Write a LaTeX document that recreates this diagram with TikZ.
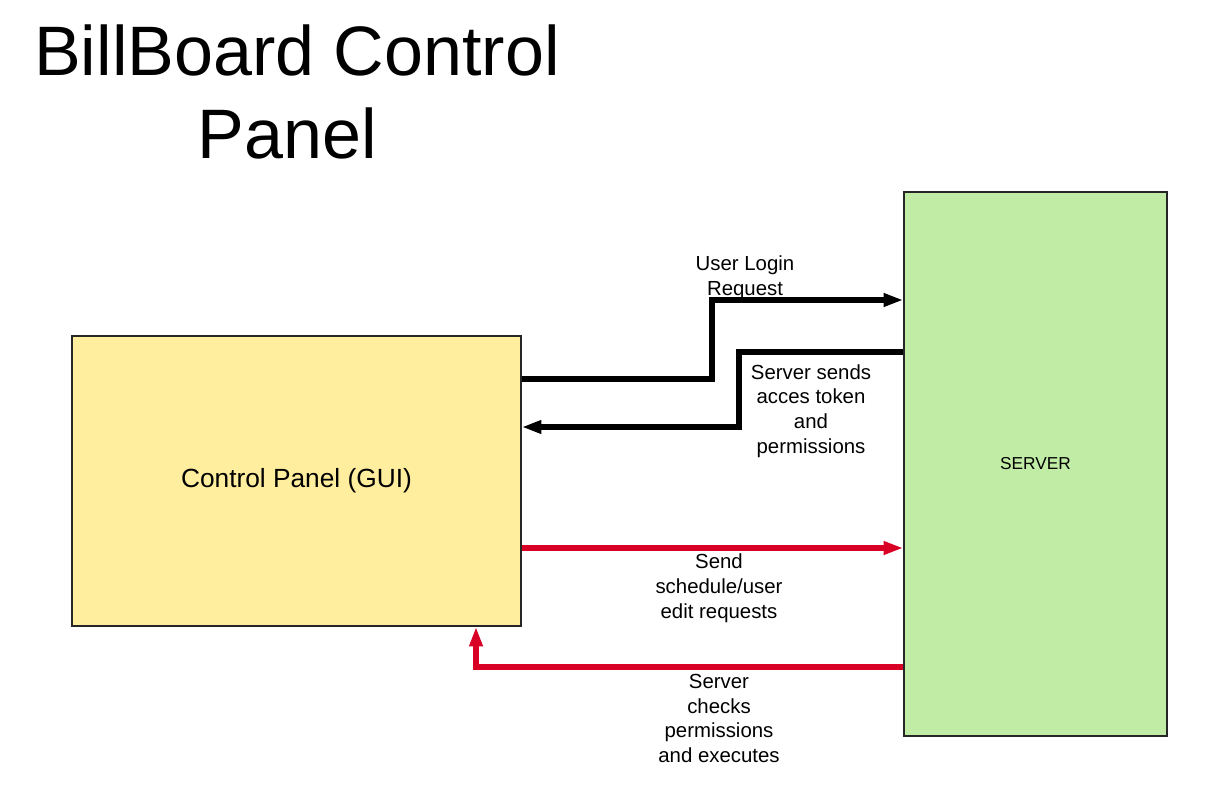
\documentclass[tikz,border=0pt]{standalone}
\usepackage{fontspec}
\setmainfont{Liberation Sans}
\usetikzlibrary{arrows.meta}

\definecolor{guiyellow}{RGB}{255,238,158}
\definecolor{servergreen}{RGB}{192,236,166}
\definecolor{linkred}{RGB}{217,0,38}

\tikzset{
  box/.style={draw=black!85, line width=1pt, inner sep=0pt},
  link/.style={line width=3.6pt, -{Triangle[length=14pt,width=9pt]}},
  note/.style={align=center, font=\fontsize{14.5}{17.6}\selectfont},
}

\begin{document}
\begin{tikzpicture}[x=0.025cm, y=-0.025cm]
\useasboundingbox (0,0) rectangle (1210,800);

\node[align=center, font=\fontsize{49.8}{59}\selectfont] (title) at (297,92) {BillBoard Control\\Panel\hspace*{14pt}};

\node[box, fill=guiyellow, minimum width=11.225cm, minimum height=7.25cm,
      font=\fontsize{18.7}{22}\selectfont] (gui) at (296.5,481) {Control Panel (GUI)};
\node[box, fill=servergreen, minimum width=6.575cm, minimum height=13.6cm,
      font=\fontsize{12.3}{14}\selectfont] (server) at (1035.5,464) {SERVER};

% login request and token reply
\draw[link] (gui.east |- 0,379) -- (712,379) -- (712,300) -- (server.west |- 0,300);
\draw[link] (server.west |- 0,352) -- (739,352) -- (739,427) -- (gui.east |- 0,427);

% edit requests
\draw[link, linkred] (gui.east |- 0,548) -- (server.west |- 0,548);
\draw[link, linkred] (server.west |- 0,667) -- (476,667) -- (gui.south -| 476,0);

\node[note] (login) at (745,278) {User Login\\Request};
\node[note] (token) at (811,411) {Server sends\\acces token\\and\\permissions};
\node[note] (edit) at (719,588) {Send\\schedule/user\\edit requests};
\node[note] (check) at (719,718.5) {Server\\checks\\permissions\\and executes};

\end{tikzpicture}
\end{document}
